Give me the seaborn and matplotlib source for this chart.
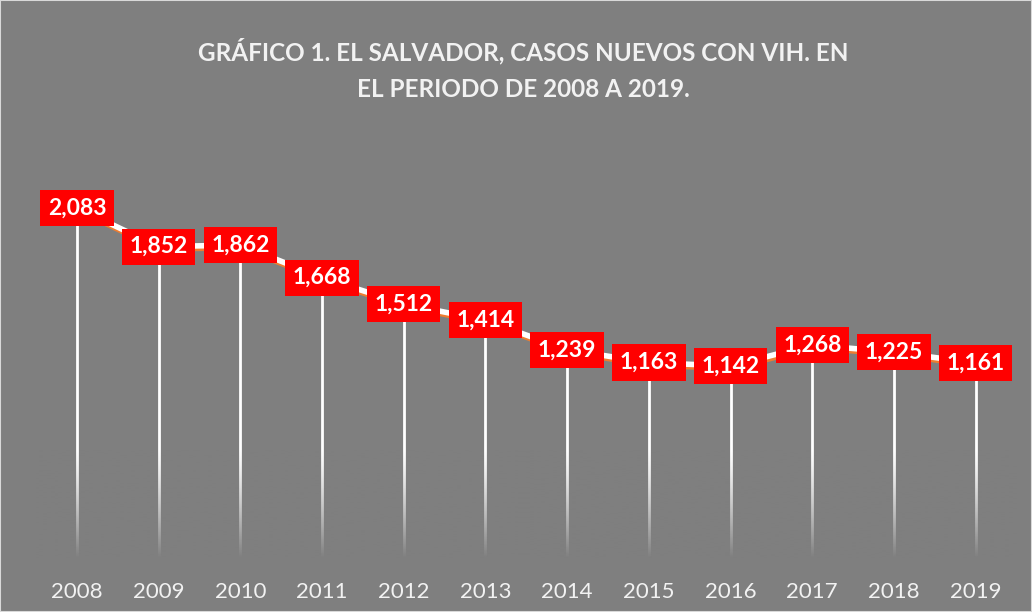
import matplotlib
matplotlib.use("Agg")
import matplotlib.pyplot as plt
import matplotlib.patheffects as pe
from matplotlib.colors import to_rgb
import numpy as np
import pandas as pd
import seaborn as sns

# data
years = ["2008", "2009", "2010", "2011", "2012", "2013", "2014", "2015", "2016", "2017", "2018", "2019"]
cases = [2083, 1852, 1862, 1668, 1512, 1414, 1239, 1163, 1142, 1268, 1225, 1161]
title = "GRÁFICO 1. EL SALVADOR, CASOS NUEVOS CON VIH. EN\nEL PERIODO DE 2008 A 2019."

bg = "#7F7F7F"
sns.set_theme(style="white")
plt.rcParams["font.family"] = ["Lato", "DejaVu Sans"]

df = pd.DataFrame({"year": years, "cases": cases})
df["pos"] = np.arange(len(df))

fig = plt.figure(figsize=(10.32, 6.12), dpi=100, facecolor=bg)
ax = fig.add_axes([0.035, 0.088, 0.95, 0.687])
ax.set_facecolor(bg)

# drop lines
ax.vlines(df["pos"], 0, df["cases"], color="white", lw=2, zorder=1)

# fade drop lines out towards the bottom with a background-coloured gradient
fade = np.zeros((100, 1, 4))
fade[..., :3] = to_rgb(bg)
fade[:, 0, 3] = np.clip(1 - np.linspace(0, 1, 100) * 1.15, 0, 1) ** 1.3
ax.imshow(fade, extent=(-0.5, len(df) - 0.5, 0, 750), origin="lower", aspect="auto",
          zorder=1.5, interpolation="bilinear")

# the series line with orange shadow
sns.lineplot(data=df, x="pos", y="cases", ax=ax, color="white", lw=4, zorder=2,
             path_effects=[pe.SimpleLineShadow(offset=(0.8, -1.8), shadow_color="#ED7D31", alpha=1),
                           pe.Normal()])

# value labels
for x, v in zip(df["pos"], df["cases"]):
    ax.text(x, v, f"{v:,}", ha="center", va="center", color="white", fontsize=16.5,
            fontweight="bold", zorder=3,
            bbox=dict(boxstyle="square,pad=0.33", fc="#FF0000", ec="none"))

ax.set_xlim(-0.5, len(df) - 0.5)
ax.set_ylim(0, 2500)
ax.set_xticks(df["pos"])
ax.set_xticklabels(years, color="#F2F2F2", fontsize=16)
ax.tick_params(axis="x", length=0, pad=17)
ax.set_yticks([])
ax.set_xlabel("")
ax.set_ylabel("")
for s in ax.spines.values():
    s.set_visible(False)

fig.text(0.507, 0.887, title, ha="center", va="center", color="#F2F2F2", fontsize=17.5,
         fontweight="bold", linespacing=1.7)

fig.patches.append(plt.Rectangle((0, 0), 1, 1, transform=fig.transFigure, fill=False,
                                 ec="#D9D9D9", lw=1.5))

fig.savefig("out.png", dpi=100, facecolor=bg)
